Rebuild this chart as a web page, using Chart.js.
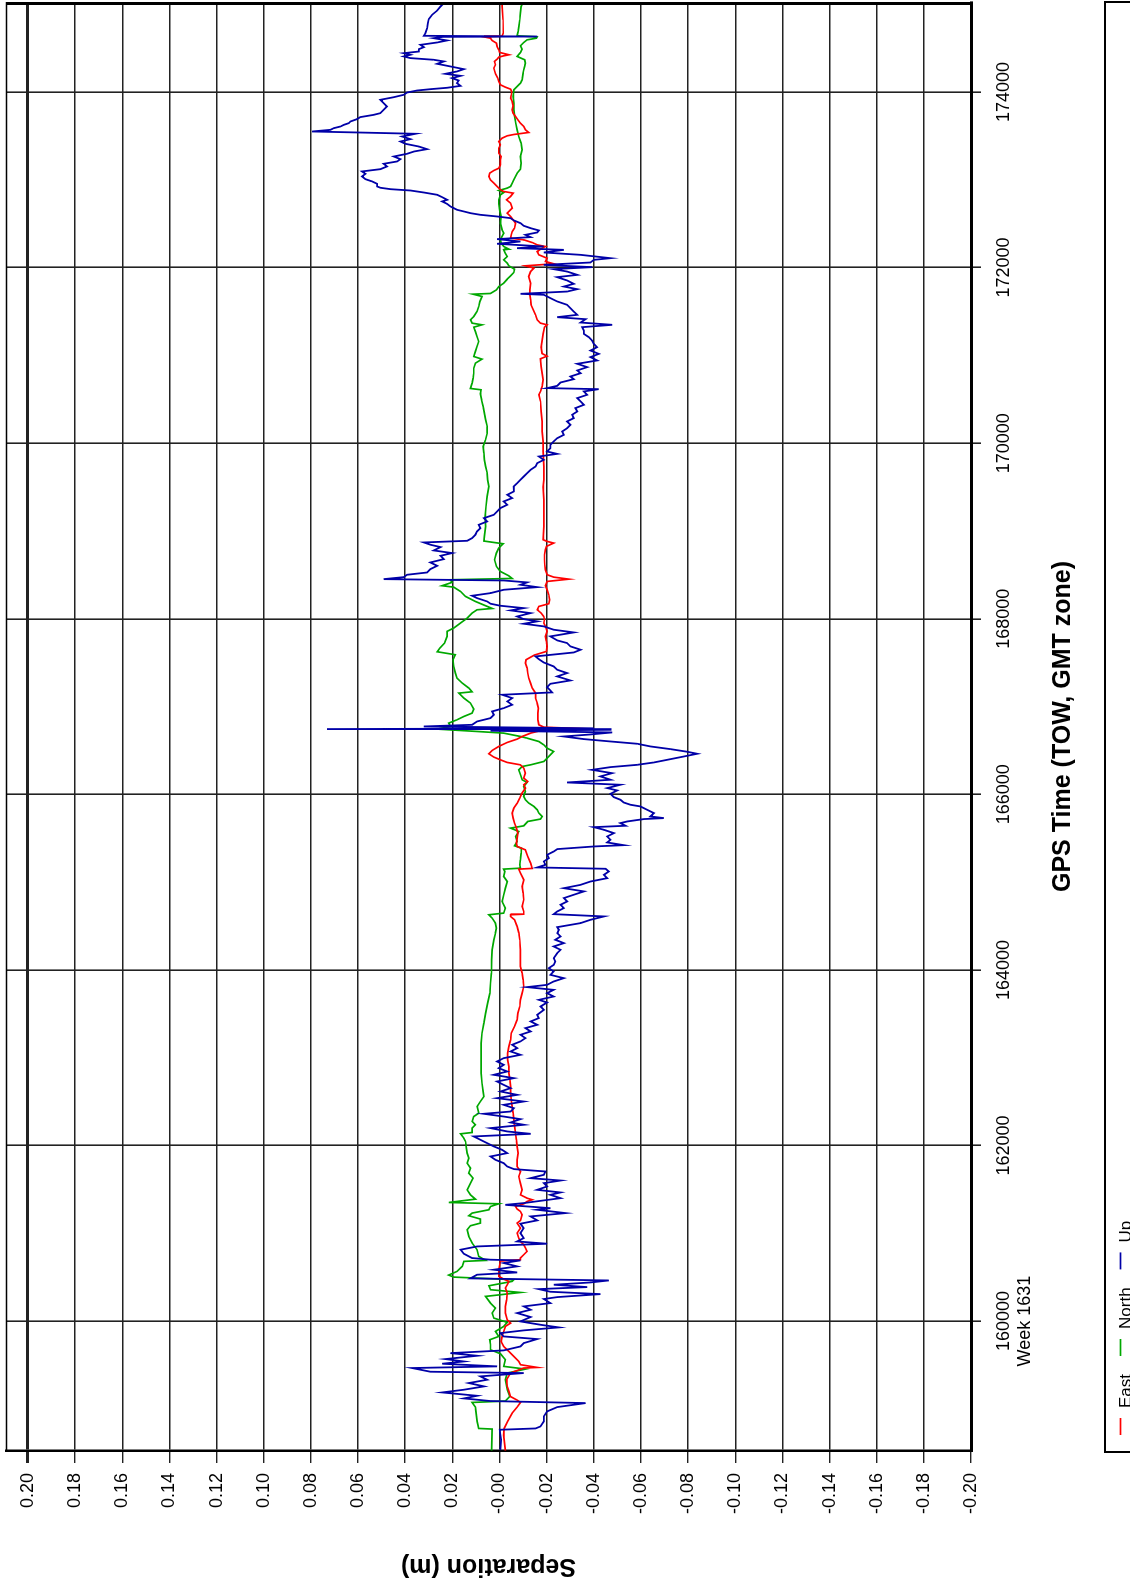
<!DOCTYPE html>
<html><head><meta charset="utf-8">
<script src="https://cdn.jsdelivr.net/npm/chart.js@4/dist/chart.umd.min.js"></script>
<style>
html,body{margin:0;padding:0;background:#fff;overflow:hidden;width:1130px;height:1589px;}
#wrap{position:absolute;left:0;top:0;width:1589px;height:1130px;transform-origin:0 0;transform:translate(0px,1589px) rotate(-90deg);background:#fff;}
canvas{display:block;}
</style></head><body>
<div id="wrap"><canvas id="c" width="1589" height="1130"></canvas></div>
<script>
// ---- data (GPS time of week [s], separation [m]) ----
const seriesNames = ['East', 'North', 'Up'];
const seriesColors = ['#ff0000', '#00a800', '#0000a8'];
const seriesWidths = [1.7, 1.7, 1.8];

const eastPoints = [[158525,-0.0025],[158700,-0.0018],[158777,-0.0020],[158860,-0.0035],[158952,-0.0054],[159020,-0.0075],[159073,-0.0089],[159100,-0.0075],[159140,-0.0047],[159200,-0.0040],[159256,-0.0033],[159332,-0.0030],[159408,-0.0047],[159465,-0.0103],[159472,-0.0160],[159503,-0.0089],[159540,-0.0082],[159597,-0.0061],[159654,-0.0040],[159711,-0.0018],[159768,-0.0007],[159825,-0.0011],[159882,-0.0018],[159939,-0.0025],[159977,-0.0047],[160015,-0.0033],[160091,-0.0025],[160167,-0.0025],[160243,-0.0030],[160319,-0.0033],[160376,-0.0025],[160414,-0.0033],[160452,-0.0040],[160479,-0.0018],[160509,0.0003],[160585,0.0003],[160684,-0.0004],[160699,-0.0089],[160718,-0.0089],[160756,-0.0103],[160794,-0.0117],[160832,-0.0110],[160869,-0.0103],[160907,-0.0089],[160945,-0.0082],[161002,-0.0075],[161059,-0.0089],[161116,-0.0075],[161147,-0.0089],[161211,-0.0096],[161249,-0.0089],[161276,-0.0075],[161306,-0.0068],[161336,-0.0103],[161363,-0.0117],[161382,-0.0139],[161400,-0.0117],[161438,-0.0089],[161495,-0.0096],[161571,-0.0089],[161647,-0.0082],[161704,-0.0089],[161761,-0.0075],[161837,-0.0075],[161913,-0.0079],[161989,-0.0075],[162065,-0.0072],[162141,-0.0068],[162216,-0.0064],[162292,-0.0061],[162368,-0.0058],[162444,-0.0054],[162520,-0.0050],[162596,-0.0047],[162672,-0.0047],[162748,-0.0044],[162824,-0.0040],[162900,-0.0040],[162976,-0.0035],[163052,-0.0035],[163128,-0.0040],[163204,-0.0047],[163280,-0.0050],[163356,-0.0064],[163432,-0.0075],[163508,-0.0078],[163583,-0.0086],[163659,-0.0089],[163735,-0.0096],[163811,-0.0103],[163887,-0.0100],[163963,-0.0096],[164039,-0.0089],[164115,-0.0089],[164229,-0.0089],[164343,-0.0086],[164419,-0.0082],[164495,-0.0075],[164571,-0.0064],[164609,-0.0047],[164628,-0.0047],[164635,-0.0103],[164666,-0.0103],[164723,-0.0096],[164799,-0.0103],[164875,-0.0100],[164951,-0.0096],[165026,-0.0103],[165102,-0.0089],[165148,-0.0082],[165156,-0.0139],[165216,-0.0132],[165292,-0.0120],[165368,-0.0110],[165406,-0.0075],[165444,-0.0072],[165501,-0.0075],[165558,-0.0078],[165615,-0.0072],[165672,-0.0064],[165729,-0.0058],[165786,-0.0054],[165843,-0.0061],[165900,-0.0075],[165957,-0.0086],[166014,-0.0096],[166071,-0.0110],[166109,-0.0103],[166147,-0.0120],[166185,-0.0103],[166241,-0.0110],[166298,-0.0103],[166336,-0.0089],[166363,-0.0033],[166393,-0.0004],[166424,0.0024],[166462,0.0045],[166500,0.0031],[166545,0.0003],[166591,-0.0033],[166629,-0.0075],[166659,-0.0096],[166697,-0.0132],[166735,-0.0188],[166743,-0.0400],[166765,-0.0188],[166792,-0.0167],[166849,-0.0163],[166925,-0.0163],[166982,-0.0165],[167039,-0.0160],[167096,-0.0153],[167153,-0.0153],[167210,-0.0139],[167264,-0.0132],[167324,-0.0124],[167381,-0.0120],[167438,-0.0117],[167495,-0.0110],[167533,-0.0113],[167586,-0.0148],[167628,-0.0199],[167685,-0.0202],[167742,-0.0199],[167799,-0.0195],[167856,-0.0202],[167913,-0.0195],[167951,-0.0188],[167989,-0.0191],[168026,-0.0188],[168064,-0.0177],[168102,-0.0160],[168140,-0.0167],[168171,-0.0209],[168216,-0.0213],[168273,-0.0209],[168330,-0.0202],[168376,-0.0195],[168425,-0.0202],[168451,-0.0294],[168474,-0.0230],[168501,-0.0202],[168558,-0.0195],[168615,-0.0192],[168672,-0.0191],[168729,-0.0191],[168786,-0.0195],[168824,-0.0199],[168862,-0.0230],[168881,-0.0202],[168900,-0.0185],[169051,-0.0188],[169203,-0.0188],[169355,-0.0188],[169500,-0.0185],[169582,-0.0188],[169734,-0.0188],[169905,-0.0185],[170019,-0.0185],[170133,-0.0181],[170247,-0.0181],[170361,-0.0177],[170475,-0.0174],[170551,-0.0167],[170589,-0.0174],[170646,-0.0181],[170722,-0.0185],[170797,-0.0181],[170873,-0.0177],[170961,-0.0174],[170991,-0.0202],[171021,-0.0181],[171093,-0.0177],[171169,-0.0181],[171245,-0.0185],[171321,-0.0191],[171348,-0.0202],[171367,-0.0174],[171405,-0.0160],[171462,-0.0153],[171519,-0.0143],[171576,-0.0134],[171633,-0.0132],[171690,-0.0129],[171747,-0.0129],[171822,-0.0132],[171898,-0.0124],[171955,-0.0132],[171993,-0.0146],[172020,-0.0110],[172043,-0.0230],[172069,-0.0195],[172107,-0.0202],[172145,-0.0167],[172183,-0.0160],[172221,-0.0181],[172240,-0.0195],[172259,-0.0160],[172285,-0.0139],[172316,-0.0103],[172335,-0.0047],[172373,-0.0050],[172411,-0.0054],[172449,-0.0064],[172506,-0.0068],[172544,-0.0058],[172582,-0.0047],[172620,-0.0033],[172677,-0.0054],[172734,-0.0047],[172772,-0.0030],[172810,-0.0047],[172848,-0.0058],[172867,-0.0018],[172886,-0.0004],[172924,0.0010],[172962,0.0024],[172999,0.0038],[173038,0.0045],[173076,0.0041],[173106,0.0024],[173132,0.0003],[173170,-0.0004],[173228,-0.0004],[173265,-0.0007],[173303,0.0003],[173360,0.0003],[173398,-0.0004],[173436,0.0003],[173474,-0.0011],[173501,-0.0033],[173516,-0.0061],[173539,-0.0124],[173569,-0.0110],[173607,-0.0103],[173645,-0.0089],[173683,-0.0078],[173721,-0.0068],[173759,-0.0058],[173797,-0.0054],[173842,-0.0058],[173892,-0.0054],[173930,-0.0047],[173968,-0.0050],[174006,-0.0052],[174032,-0.0047],[174055,-0.0025],[174082,-0.0004],[174120,0.0003],[174158,0.0007],[174207,0.0017],[174245,0.0021],[174272,0.0024],[174310,0.0017],[174348,0.0021],[174374,0.0010],[174397,0.0003],[174412,-0.0018],[174424,-0.0040],[174450,-0.0001],[174480,0.0003],[174518,0.0010],[174556,0.0013],[174587,0.0031],[174613,0.0038],[174628,0.0066],[174636,-0.0011],[174670,-0.0016],[174822,-0.0015],[174974,-0.0011],[175024,-0.0011]];

const northPoints = [[158525,0.0033],[158770,0.0031],[158777,0.0088],[158857,0.0095],[159020,0.0102],[159073,0.0116],[159089,-0.0025],[159142,-0.0044],[159218,-0.0033],[159332,-0.0025],[159408,-0.0033],[159453,-0.0110],[159484,-0.0018],[159560,-0.0025],[159628,-0.0004],[159673,0.0038],[159730,0.0038],[159787,0.0041],[159825,0.0003],[159882,0.0017],[159939,-0.0018],[159985,-0.0033],[160034,0.0024],[160091,0.0031],[160148,0.0017],[160205,0.0038],[160281,0.0059],[160326,-0.0089],[160357,0.0038],[160402,0.0045],[160452,-0.0054],[160471,-0.0061],[160501,0.0194],[160524,0.0215],[160566,0.0180],[160623,0.0158],[160680,0.0151],[160691,0.0059],[160737,0.0088],[160813,0.0095],[160888,0.0116],[160964,0.0130],[161040,0.0137],[161086,0.0123],[161116,0.0081],[161162,0.0081],[161200,0.0130],[161230,0.0116],[161268,0.0045],[161305,0.0038],[161336,0.0003],[161351,0.0215],[161389,0.0102],[161438,0.0123],[161495,0.0137],[161571,0.0123],[161628,0.0112],[161685,0.0130],[161742,0.0123],[161799,0.0137],[161856,0.0130],[161913,0.0137],[161970,0.0140],[162046,0.0144],[162084,0.0151],[162133,0.0165],[162148,0.0116],[162198,0.0116],[162236,0.0102],[162274,0.0116],[162330,0.0109],[162368,0.0088],[162444,0.0095],[162501,0.0081],[162558,0.0066],[162615,0.0069],[162710,0.0074],[162824,0.0078],[162938,0.0078],[163052,0.0078],[163166,0.0078],[163280,0.0074],[163394,0.0066],[163508,0.0059],[163621,0.0050],[163735,0.0041],[163849,0.0038],[163963,0.0034],[164115,0.0033],[164229,0.0031],[164343,0.0024],[164419,0.0017],[164476,0.0013],[164533,0.0017],[164590,0.0031],[164628,0.0045],[164647,-0.0018],[164704,-0.0025],[164780,-0.0011],[164856,-0.0018],[164931,-0.0025],[165007,-0.0033],[165064,-0.0018],[165121,-0.0023],[165148,-0.0018],[165159,-0.0089],[165197,-0.0086],[165254,-0.0089],[165330,-0.0092],[165387,-0.0093],[165414,-0.0064],[165463,-0.0075],[165520,-0.0069],[165577,-0.0082],[165615,-0.0047],[165641,-0.0103],[165691,-0.0120],[165718,-0.0174],[165748,-0.0181],[165786,-0.0167],[165824,-0.0160],[165862,-0.0146],[165900,-0.0124],[165938,-0.0110],[165976,-0.0103],[166033,-0.0110],[166090,-0.0103],[166135,-0.0117],[166166,-0.0096],[166223,-0.0089],[166279,-0.0082],[166317,-0.0096],[166336,-0.0132],[166374,-0.0188],[166412,-0.0202],[166450,-0.0216],[166488,-0.0230],[166526,-0.0202],[166564,-0.0188],[166602,-0.0167],[166640,-0.0117],[166659,-0.0089],[166697,-0.0018],[166716,0.0095],[166743,0.0264],[166773,0.0208],[166811,0.0215],[166849,0.0180],[166887,0.0151],[166925,0.0116],[166971,0.0109],[167039,0.0123],[167096,0.0151],[167153,0.0172],[167168,0.0116],[167210,0.0130],[167267,0.0158],[167324,0.0180],[167381,0.0187],[167457,0.0194],[167533,0.0197],[167590,0.0187],[167624,0.0264],[167666,0.0253],[167723,0.0233],[167799,0.0222],[167856,0.0222],[167894,0.0194],[167951,0.0165],[168007,0.0137],[168064,0.0116],[168102,0.0095],[168117,0.0031],[168148,0.0059],[168197,0.0102],[168254,0.0144],[168311,0.0165],[168360,0.0194],[168376,0.0243],[168414,0.0201],[168444,0.0208],[168459,-0.0054],[168489,-0.0040],[168539,-0.0004],[168596,0.0013],[168672,0.0021],[168748,0.0013],[168805,0.0003],[168854,-0.0016],[168885,0.0066],[168938,0.0064],[169051,0.0059],[169165,0.0061],[169279,0.0057],[169393,0.0052],[169507,0.0045],[169582,0.0050],[169658,0.0052],[169734,0.0059],[169810,0.0064],[169886,0.0066],[169962,0.0069],[170038,0.0059],[170114,0.0052],[170190,0.0052],[170266,0.0059],[170342,0.0064],[170418,0.0069],[170494,0.0076],[170562,0.0081],[170608,0.0078],[170623,0.0123],[170684,0.0116],[170741,0.0112],[170797,0.0109],[170854,0.0109],[170911,0.0102],[170957,0.0074],[170987,0.0109],[171044,0.0102],[171101,0.0095],[171158,0.0088],[171215,0.0095],[171272,0.0102],[171321,0.0109],[171348,0.0074],[171367,0.0116],[171405,0.0123],[171443,0.0109],[171500,0.0095],[171557,0.0088],[171614,0.0083],[171671,0.0074],[171697,0.0112],[171705,0.0038],[171746,0.0013],[171784,0.0003],[171822,-0.0018],[171868,-0.0033],[171906,-0.0047],[171944,-0.0061],[171982,-0.0064],[172020,-0.0040],[172050,-0.0033],[172088,-0.0018],[172126,-0.0033],[172164,-0.0025],[172202,-0.0018],[172210,-0.0040],[172240,-0.0018],[172278,-0.0007],[172316,-0.0004],[172354,-0.0011],[172392,-0.0018],[172430,-0.0011],[172506,-0.0004],[172582,-0.0007],[172658,-0.0001],[172726,0.0003],[172772,0.0003],[172829,-0.0004],[172855,-0.0018],[172878,0.0003],[172905,-0.0033],[172924,-0.0047],[172962,-0.0054],[172999,-0.0061],[173038,-0.0068],[173076,-0.0075],[173121,-0.0089],[173190,-0.0092],[173265,-0.0089],[173341,-0.0096],[173417,-0.0092],[173493,-0.0082],[173569,-0.0075],[173645,-0.0069],[173721,-0.0064],[173797,-0.0061],[173873,-0.0061],[173949,-0.0058],[174025,-0.0061],[174063,-0.0075],[174101,-0.0089],[174139,-0.0096],[174215,-0.0100],[174253,-0.0103],[174291,-0.0107],[174329,-0.0110],[174367,-0.0107],[174405,-0.0075],[174450,-0.0089],[174488,-0.0096],[174526,-0.0089],[174564,-0.0103],[174594,-0.0117],[174613,-0.0157],[174628,-0.0160],[174640,-0.0075],[174689,-0.0079],[174746,-0.0082],[174822,-0.0086],[174898,-0.0089],[174974,-0.0092],[175024,-0.0100]];

const upPoints = [[158530,-0.0004],[158648,-0.0007],[158762,-0.0001],[158777,-0.0153],[158800,-0.0174],[158857,-0.0188],[158914,-0.0188],[158971,-0.0202],[159020,-0.0245],[159066,-0.0365],[159089,0.0038],[159119,0.0151],[159149,0.0095],[159187,0.0243],[159218,0.0151],[159256,0.0066],[159294,0.0130],[159332,0.0052],[159370,0.0081],[159408,-0.0103],[159423,0.0293],[159465,0.0370],[159484,0.0010],[159514,0.0243],[159540,0.0151],[159567,0.0229],[159605,0.0095],[159635,0.0208],[159666,-0.0018],[159711,-0.0089],[159749,-0.0103],[159795,-0.0160],[159825,-0.0018],[159863,-0.0004],[159894,-0.0103],[159928,-0.0252],[159958,-0.0174],[159996,-0.0089],[160046,-0.0132],[160091,-0.0075],[160129,-0.0132],[160167,-0.0103],[160205,-0.0216],[160251,-0.0188],[160273,-0.0245],[160307,-0.0428],[160334,-0.0216],[160364,-0.0167],[160387,-0.0372],[160414,-0.0230],[160440,-0.0386],[160463,-0.0464],[160486,0.0123],[160528,0.0095],[160554,-0.0075],[160585,0.0024],[160623,-0.0075],[160661,-0.0018],[160691,-0.0089],[160699,0.0038],[160718,0.0116],[160767,0.0151],[160813,0.0165],[160850,0.0095],[160881,-0.0202],[160907,-0.0075],[160945,-0.0103],[161002,-0.0089],[161059,-0.0103],[161109,-0.0089],[161147,-0.0160],[161192,-0.0132],[161230,-0.0280],[161268,-0.0160],[161286,-0.0216],[161324,-0.0025],[161344,-0.0103],[161400,-0.0259],[161438,-0.0216],[161465,-0.0259],[161495,-0.0160],[161533,-0.0202],[161571,-0.0188],[161601,-0.0259],[161628,-0.0132],[161666,-0.0188],[161704,-0.0195],[161731,-0.0061],[161761,-0.0033],[161799,-0.0018],[161837,0.0017],[161875,0.0038],[161913,-0.0033],[161951,-0.0011],[161989,0.0024],[162027,0.0052],[162065,0.0081],[162103,0.0109],[162133,-0.0132],[162160,-0.0033],[162198,0.0038],[162236,-0.0103],[162262,-0.0047],[162300,-0.0089],[162330,-0.0018],[162361,0.0066],[162387,-0.0047],[162425,-0.0061],[162463,-0.0018],[162501,-0.0103],[162539,0.0010],[162577,-0.0075],[162615,-0.0004],[162653,-0.0047],[162691,-0.0018],[162729,0.0010],[162767,-0.0061],[162805,0.0024],[162843,-0.0033],[162881,0.0003],[162919,-0.0018],[162957,0.0010],[162995,-0.0018],[163033,-0.0089],[163071,-0.0047],[163109,-0.0075],[163147,-0.0054],[163185,-0.0089],[163223,-0.0110],[163261,-0.0089],[163299,-0.0132],[163337,-0.0110],[163375,-0.0160],[163413,-0.0132],[163451,-0.0167],[163488,-0.0160],[163545,-0.0188],[163583,-0.0174],[163629,-0.0202],[163659,-0.0167],[163697,-0.0230],[163735,-0.0202],[163773,-0.0230],[163804,-0.0117],[163830,-0.0202],[163868,-0.0230],[163906,-0.0273],[163944,-0.0216],[163982,-0.0230],[164020,-0.0209],[164058,-0.0230],[164096,-0.0237],[164134,-0.0230],[164191,-0.0245],[164229,-0.0259],[164267,-0.0230],[164305,-0.0273],[164343,-0.0237],[164381,-0.0259],[164419,-0.0245],[164457,-0.0252],[164487,-0.0245],[164533,-0.0344],[164571,-0.0386],[164609,-0.0443],[164635,-0.0230],[164666,-0.0245],[164704,-0.0273],[164742,-0.0259],[164780,-0.0287],[164818,-0.0273],[164856,-0.0315],[164894,-0.0358],[164931,-0.0273],[164969,-0.0344],[165007,-0.0386],[165045,-0.0457],[165083,-0.0443],[165121,-0.0464],[165152,-0.0450],[165167,-0.0160],[165197,-0.0195],[165235,-0.0188],[165273,-0.0209],[165311,-0.0202],[165349,-0.0230],[165376,-0.0245],[165406,-0.0400],[165421,-0.0527],[165452,-0.0457],[165482,-0.0471],[165520,-0.0457],[165558,-0.0485],[165596,-0.0443],[165626,-0.0400],[165642,-0.0535],[165672,-0.0513],[165691,-0.0542],[165718,-0.0612],[165729,-0.0697],[165748,-0.0640],[165786,-0.0655],[165824,-0.0626],[165862,-0.0598],[165881,-0.0556],[165907,-0.0527],[165938,-0.0513],[165968,-0.0485],[166006,-0.0471],[166044,-0.0499],[166071,-0.0457],[166109,-0.0513],[166135,-0.0287],[166166,-0.0471],[166204,-0.0428],[166241,-0.0478],[166279,-0.0393],[166310,-0.0471],[166336,-0.0584],[166363,-0.0655],[166393,-0.0711],[166431,-0.0782],[166462,-0.0839],[166485,-0.0796],[166515,-0.0725],[166545,-0.0641],[166576,-0.0584],[166602,-0.0471],[166629,-0.0358],[166659,-0.0273],[166682,-0.0386],[166705,-0.0478],[166724,0.0038],[166735,-0.0471],[166743,0.0731],[166752,-0.0400],[166773,0.0321],[166792,0.0116],[166830,0.0095],[166868,0.0038],[166906,0.0024],[166944,0.0031],[166982,-0.0018],[167020,-0.0054],[167058,-0.0033],[167096,-0.0054],[167134,-0.0011],[167161,-0.0223],[167183,-0.0216],[167221,-0.0202],[167259,-0.0216],[167297,-0.0301],[167343,-0.0245],[167381,-0.0287],[167419,-0.0245],[167457,-0.0230],[167502,-0.0188],[167540,-0.0167],[167571,-0.0153],[167616,-0.0315],[167647,-0.0344],[167685,-0.0301],[167723,-0.0287],[167753,-0.0245],[167799,-0.0216],[167844,-0.0315],[167875,-0.0230],[167913,-0.0188],[167943,-0.0103],[167970,-0.0160],[167996,-0.0103],[168026,-0.0075],[168064,-0.0132],[168095,-0.0047],[168121,-0.0103],[168148,-0.0004],[168171,0.0038],[168197,0.0052],[168235,0.0095],[168262,0.0116],[168292,0.0038],[168330,-0.0018],[168360,-0.0160],[168387,-0.0089],[168414,-0.0117],[168436,-0.0018],[168451,0.0491],[168474,0.0406],[168501,0.0392],[168527,0.0307],[168565,0.0293],[168603,0.0264],[168641,0.0293],[168679,0.0236],[168717,0.0250],[168748,0.0201],[168778,0.0279],[168816,0.0250],[168843,0.0293],[168869,0.0321],[168888,0.0137],[168919,0.0116],[168957,0.0102],[168995,0.0095],[169032,0.0081],[169070,0.0088],[169108,0.0052],[169146,0.0066],[169184,0.0024],[169222,0.0010],[169260,-0.0004],[169298,-0.0033],[169336,-0.0018],[169374,-0.0054],[169412,-0.0033],[169450,-0.0061],[169506,-0.0060],[169544,-0.0075],[169582,-0.0089],[169620,-0.0103],[169658,-0.0117],[169696,-0.0132],[169734,-0.0153],[169772,-0.0160],[169810,-0.0188],[169848,-0.0167],[169878,-0.0245],[169905,-0.0202],[169943,-0.0216],[169981,-0.0216],[170019,-0.0230],[170057,-0.0245],[170095,-0.0273],[170133,-0.0266],[170171,-0.0287],[170209,-0.0301],[170247,-0.0287],[170285,-0.0315],[170323,-0.0308],[170361,-0.0330],[170399,-0.0322],[170437,-0.0358],[170475,-0.0344],[170513,-0.0330],[170551,-0.0372],[170589,-0.0358],[170615,-0.0421],[170627,-0.0202],[170653,-0.0245],[170691,-0.0259],[170729,-0.0315],[170759,-0.0301],[170797,-0.0344],[170828,-0.0330],[170866,-0.0372],[170904,-0.0330],[170942,-0.0414],[170980,-0.0386],[171017,-0.0421],[171055,-0.0386],[171093,-0.0414],[171131,-0.0400],[171169,-0.0393],[171207,-0.0379],[171245,-0.0358],[171283,-0.0358],[171321,-0.0351],[171348,-0.0478],[171374,-0.0344],[171412,-0.0365],[171435,-0.0245],[171462,-0.0330],[171500,-0.0315],[171538,-0.0301],[171576,-0.0287],[171614,-0.0245],[171652,-0.0216],[171690,-0.0188],[171701,-0.0089],[171727,-0.0287],[171754,-0.0330],[171784,-0.0273],[171815,-0.0315],[171853,-0.0287],[171891,-0.0245],[171917,-0.0330],[171955,-0.0287],[171982,-0.0230],[172005,-0.0393],[172031,-0.0188],[172058,-0.0386],[172088,-0.0400],[172107,-0.0471],[172145,-0.0344],[172172,-0.0188],[172202,-0.0273],[172221,-0.0075],[172240,-0.0188],[172271,0.0010],[172297,-0.0089],[172324,0.0010],[172347,-0.0132],[172373,-0.0110],[172400,-0.0160],[172423,-0.0167],[172449,-0.0132],[172476,-0.0103],[172506,-0.0089],[172537,-0.0061],[172563,-0.0047],[172582,0.0010],[172601,0.0081],[172620,0.0123],[172639,0.0151],[172658,0.0180],[172677,0.0194],[172696,0.0208],[172726,0.0222],[172753,0.0243],[172772,0.0222],[172802,0.0243],[172829,0.0264],[172855,0.0321],[172878,0.0378],[172893,0.0462],[172909,0.0505],[172924,0.0519],[172954,0.0519],[172981,0.0540],[173007,0.0568],[173038,0.0583],[173068,0.0568],[173095,0.0583],[173121,0.0505],[173152,0.0477],[173182,0.0491],[173209,0.0434],[173235,0.0420],[173265,0.0448],[173296,0.0392],[173322,0.0363],[173349,0.0307],[173379,0.0342],[173410,0.0399],[173436,0.0420],[173463,0.0378],[173493,0.0413],[173524,0.0356],[173539,0.0604],[173550,0.0795],[173569,0.0717],[173588,0.0703],[173607,0.0674],[173626,0.0660],[173645,0.0639],[173664,0.0632],[173691,0.0604],[173714,0.0590],[173740,0.0533],[173759,0.0505],[173797,0.0491],[173835,0.0477],[173873,0.0491],[173911,0.0505],[173941,0.0448],[173968,0.0406],[173994,0.0392],[174017,0.0349],[174032,0.0293],[174048,0.0222],[174070,0.0165],[174101,0.0180],[174131,0.0173],[174158,0.0201],[174184,0.0165],[174207,0.0229],[174234,0.0180],[174260,0.0151],[174291,0.0208],[174321,0.0264],[174348,0.0236],[174367,0.0279],[174386,0.0378],[174405,0.0406],[174424,0.0378],[174442,0.0406],[174461,0.0342],[174488,0.0342],[174511,0.0321],[174537,0.0335],[174564,0.0264],[174587,0.0222],[174613,0.0279],[174628,0.0240],[174632,-0.0160],[174640,0.0321],[174670,0.0314],[174727,0.0307],[174784,0.0304],[174830,0.0300],[174879,0.0286],[174928,0.0264],[174974,0.0250],[175012,0.0236],[175024,0.0229]];

const timeTicks = [160000, 162000, 164000, 166000, 168000, 170000, 172000, 174000];
const timeTickLabels = ['160000', '162000', '164000', '166000', '168000', '170000', '172000', '174000'];
const weekLabel = 'Week 1631';
const sepTicks = [-0.20, -0.18, -0.16, -0.14, -0.12, -0.10, -0.08, -0.06, -0.04, -0.02, 0.00, 0.02, 0.04, 0.06, 0.08, 0.10, 0.12, 0.14, 0.16, 0.18, 0.20];
const sepTickLabels = ['-0.20', '-0.18', '-0.16', '-0.14', '-0.12', '-0.10', '-0.08', '-0.06', '-0.04', '-0.02', '-0.00', '0.02', '0.04', '0.06', '0.08', '0.10', '0.12', '0.14', '0.16', '0.18', '0.20'];
const xTitle = 'GPS Time (TOW, GMT zone)';
const yTitle = 'Separation (m)';

// ---- chart ----
const FONT = "'Liberation Sans', Arial, Helvetica, sans-serif";
const toXY = pts => pts.map(p => ({x: p[0], y: p[1]}));
const allPoints = [eastPoints, northPoints, upPoints];
const drawOrder = [1, 2, 0];

const framePlugin = {
  id: 'frame',
  afterDatasetsDraw(chart) {
    const {ctx, chartArea: a} = chart;
    ctx.save();
    ctx.strokeStyle = '#000';
    ctx.lineWidth = 1.4;
    ctx.beginPath(); ctx.moveTo(a.left, a.top + 0.5); ctx.lineTo(a.right, a.top + 0.5); ctx.stroke();
    ctx.lineWidth = 3;
    ctx.beginPath(); ctx.moveTo(a.right - 1.5, a.top); ctx.lineTo(a.right - 1.5, a.bottom); ctx.stroke();
    ctx.restore();
  }
};

const boxLegendPlugin = {
  id: 'boxLegend',
  afterDraw(chart) {
    const {ctx, chartArea: a} = chart;
    ctx.save();
    ctx.strokeStyle = '#000';
    ctx.lineWidth = 2;
    ctx.strokeRect(a.left - 1, 1105, a.right - a.left + 1, 60);
    ctx.font = '17px ' + FONT;
    ctx.textBaseline = 'alphabetic';
    let x = 154;
    chart.data.datasets.forEach(ds => {
      ctx.strokeStyle = ds.borderColor;
      ctx.lineWidth = 1.7;
      ctx.beginPath(); ctx.moveTo(x, 1120.5); ctx.lineTo(x + 17, 1120.5); ctx.stroke();
      ctx.fillStyle = '#000';
      ctx.fillText(ds.label, x + 27, 1131);
      x += 27 + ctx.measureText(ds.label).width + 18;
    });
    ctx.restore();
  }
};

new Chart(document.getElementById('c'), {
  type: 'line',
  data: {
    datasets: seriesNames.map((name, i) => ({
      label: name,
      data: toXY(allPoints[i]),
      borderColor: seriesColors[i],
      backgroundColor: seriesColors[i],
      borderWidth: seriesWidths[i],
      pointRadius: 0,
      fill: false,
      tension: 0,
      order: drawOrder[i]
    }))
  },
  options: {
    responsive: false,
    animation: false,
    devicePixelRatio: 1,
    events: [],
    layout: {padding: {top: 6, right: 2, bottom: 25, left: 0}},
    plugins: {legend: {display: false}, tooltip: {enabled: false}},
    scales: {
      x: {
        type: 'linear', position: 'bottom', min: 158520, max: 175025,
        afterBuildTicks: s => { s.ticks = timeTicks.map(v => ({value: v})); },
        afterFit: s => { s.height = 134; s.paddingLeft = 0; s.paddingRight = 0; },
        grid: {color: '#222', lineWidth: 1.6, tickLength: 10, drawTicks: true},
        border: {display: true, color: '#000', width: 3},
        ticks: {
          autoSkip: false, maxRotation: 0, minRotation: 0, padding: 12, color: '#000',
          font: {family: FONT, size: 18},
          callback: v => {
            const i = timeTicks.indexOf(v);
            if (i < 0) return '';
            return v === 160000 ? [timeTickLabels[i], weekLabel] : timeTickLabels[i];
          }
        },
        title: {display: true, text: xTitle, color: '#000', font: {family: FONT, size: 25, weight: 'bold'}, padding: {top: 0, bottom: 27}}
      },
      y: {
        type: 'linear', position: 'left', min: -0.2, max: 0.2093,
        afterBuildTicks: s => { s.ticks = sepTicks.map(v => ({value: v})); },
        afterFit: s => { s.width = 138; s.paddingTop = 0; s.paddingBottom = 0; },
        grid: {
          color: '#222', tickLength: 12, drawTicks: true,
          lineWidth: c => (c.tick && c.tick.value > 0.199) ? 3 : 1.4
        },
        border: {display: true, color: '#000', width: 2.5},
        ticks: {
          autoSkip: false, padding: 10, color: '#000',
          font: {family: FONT, size: 18},
          callback: v => {
            let best = 0, d = 1e9;
            sepTicks.forEach((t, i) => { if (Math.abs(t - v) < d) { d = Math.abs(t - v); best = i; } });
            return sepTickLabels[best];
          }
        },
        title: {display: true, text: yTitle, color: '#000', font: {family: FONT, size: 25, weight: 'bold'}, padding: {top: 8, bottom: 0}}
      }
    }
  },
  plugins: [framePlugin, boxLegendPlugin]
});
</script>
</body></html>
